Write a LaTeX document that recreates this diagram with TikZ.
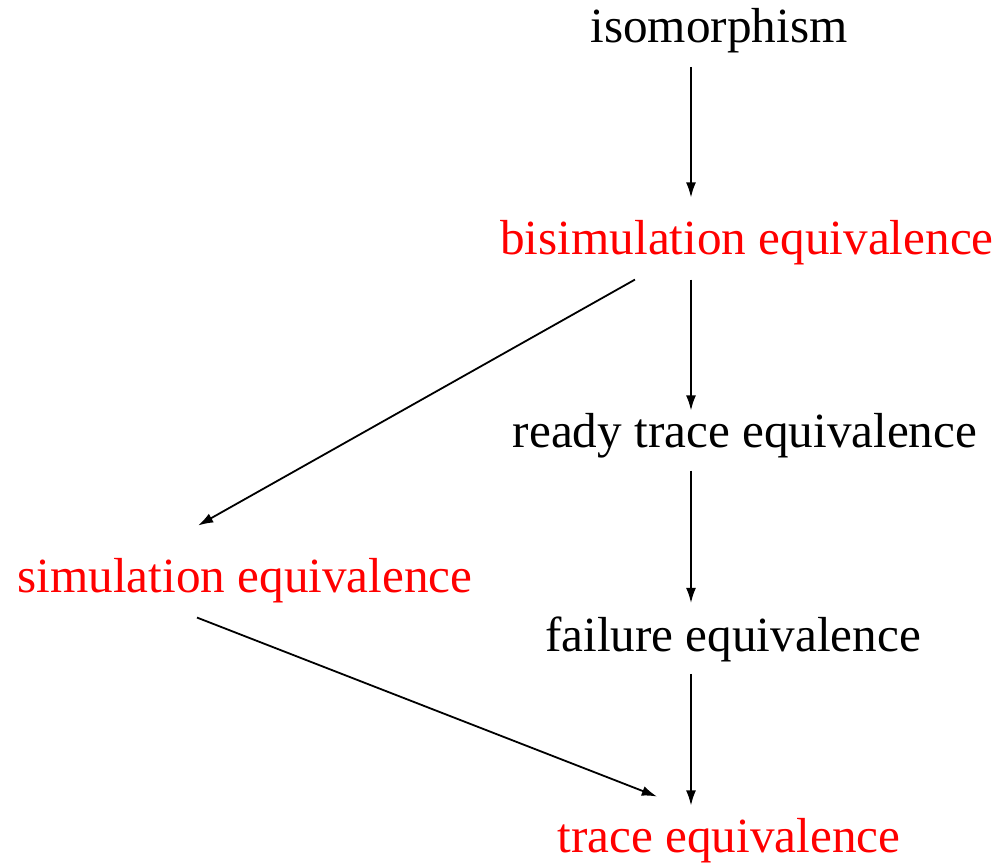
\documentclass[tikz,border=0pt]{standalone}
\usepackage{fontspec}
\setmainfont{Liberation Serif}
\usetikzlibrary{arrows.meta}

\begin{document}
\begin{tikzpicture}[x=0.25pt,y=-0.25pt,>={Latex[length=3.8pt,width=2.5pt]},line width=0.45pt,
    eqv/.style={inner sep=0pt,anchor=base,font=\rmfamily\fontsize{12.3}{14}\selectfont},
    hl/.style={eqv,text=red}]
    \useasboundingbox (0,0) rectangle (1000,866);
    \coordinate (spine) at (691,0);
    \node[eqv] (iso) at (719,43) {isomorphism};
    \node[hl] (bisim) at (747,255) {bisimulation equivalence};
    \node[eqv] (ready) at (745,448) {ready trace equivalence};
    \node[hl] (sim) at (245,593) {simulation equivalence};
    \node[eqv] (fail) at (733,652) {failure equivalence};
    \node[hl] (trace) at (729,853) {trace equivalence};
    \draw[->,shorten <=3.1pt,shorten >=5.6pt] (iso.south -| spine) -- (bisim.north -| spine);
    \draw[->,shorten <=3.3pt,shorten >=0.6pt] (bisim.south -| spine) -- (ready.north -| spine);
    \draw[->,shorten <=2.8pt,shorten >=3.35pt] (ready.south -| spine) -- (fail.north -| spine);
    \draw[->,shorten <=2.6pt,shorten >=3.1pt] (fail.south -| spine) -- (trace.north -| spine);
    \draw[->] ([xshift=-28pt,yshift=-3.3pt]bisim.south) -- ([xshift=-11.75pt,yshift=8.1pt]sim.north);
    \draw[->] ([xshift=-12pt,yshift=-3.3pt]sim.south) -- ([xshift=-18pt,yshift=5.35pt]trace.north);
\end{tikzpicture}
\end{document}
